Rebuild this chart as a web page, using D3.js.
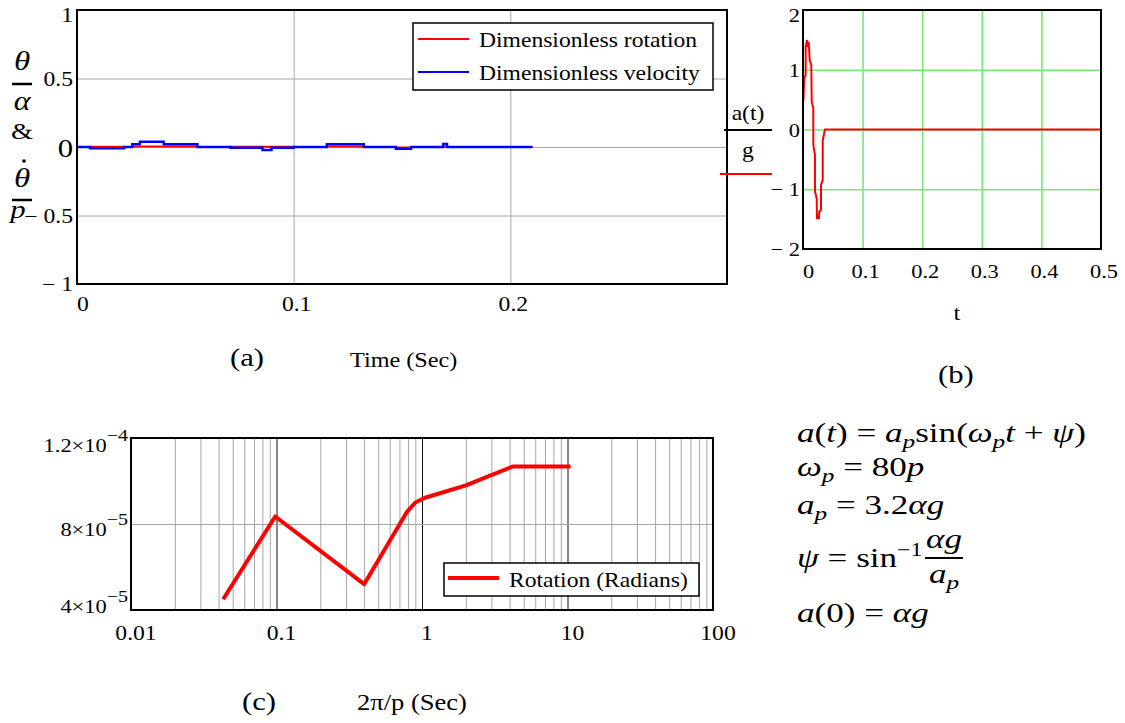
<!DOCTYPE html>
<html><head><meta charset="utf-8">
<script src="https://cdn.jsdelivr.net/npm/d3@7"></script>
<style>
body{margin:0;background:#fff}
svg{display:block}
text{font-family:"Liberation Serif","Times New Roman",serif;fill:#000}
</style>
</head><body>
<svg id="chart" width="1125" height="723"></svg>
<script>
// ---------------- DATA ----------------
// Panel (a): step series (time in s)
const timeA     = [0, 0.006, 0.0218, 0.0255, 0.029, 0.040, 0.0556, 0.0708, 0.0856, 0.0898, 0.100, 0.1153, 0.1324, 0.1472, 0.1542, 0.169, 0.1708, 0.2102];
const rotationA = [0, 0.002, 0, 0.003, 0.003, 0.003, 0, 0.001, 0.001, 0.001, 0, 0.004, 0, -0.004, 0, 0.002, 0, 0];
const velocityA = [0, -0.010, 0, 0.020, 0.038, 0.020, 0, -0.006, -0.022, -0.006, 0, 0.020, 0, -0.013, 0, 0.022, 0, 0];
const ticksAx = [0, 0.1, 0.2];
const labelsAx = ["0", "0.1", "0.2"];
const ticksAy = [1, 0.5, 0, -0.5, -1];
const labelsAy = ["1", "0.5", "0", "\u2212 0.5", "\u2212 1"];
const legendA = ["Dimensionless rotation", "Dimensionless velocity"];

// Panel (b): a(t)/g vs t
const timeB  = [0.0005, 0.0022, 0.0045, 0.0045, 0.0067, 0.0072, 0.0096, 0.0112, 0.0139, 0.0146, 0.0173, 0.0173, 0.0201, 0.0201, 0.0230, 0.0235, 0.0268, 0.0273, 0.0302, 0.0302, 0.0331, 0.0331, 0.0369, 0.5];
const accelB = [0.465, 0.857, 0.912, 1.386, 1.498, 1.386, 1.469, 1.163, 1.079, 0.465, 0.355, -0.259, -0.427, -1.041, -1.151, -1.486, -1.486, -1.376, -1.347, -0.929, -0.845, -0.176, 0, 0];
const ticksBx = [0, 0.1, 0.2, 0.3, 0.4, 0.5];
const labelsBx = ["0", "0.1", "0.2", "0.3", "0.4", "0.5"];
const ticksBy = [2, 1, 0, -1, -2];
const labelsBy = ["2", "1", "0", "\u2212 1", "\u2212 2"];

// Panel (c): rotation vs 2π/p (log x)
const periodC   = [0.043, 0.098, 0.40, 0.785, 0.90, 1.05, 2.0, 4.2, 10.5];
const rotationC = [4.5e-5, 8.35e-5, 5.2e-5, 8.55e-5, 9.0e-5, 9.22e-5, 9.8e-5, 1.067e-4, 1.067e-4];
const ticksCx = [0.01, 0.1, 1, 10, 100];
const labelsCx = ["0.01", "0.1", "1", "10", "100"];
const ticksCy = [1.2e-4, 8e-5, 4e-5];
const mantCy = ["1.2\u00d710", "8\u00d710", "4\u00d710"];
const expCy = ["\u22124", "\u22125", "\u22125"];
const legendC = ["Rotation (Radians)"];

// ---------------- DRAWING ----------------
const svg = d3.select("#chart");
const SX = 1.18;           // horizontal glyph stretch of the reference
const GRID = "#a6a6a6";

function txt(sel, x, y, s, size, anchor, style) {
  const t = sel.append("text")
    .attr("transform", `translate(${x},${y}) scale(${SX},1)`)
    .attr("font-size", size)
    .attr("text-anchor", anchor || "start")
    .text(s);
  if (style) t.attr("font-style", style);
  return t;
}

// ===== Panel (a) =====
const A = {l: 77, r: 727, t: 10, b: 284};
const xA = d3.scaleLinear().domain([0, 0.3]).range([A.l, A.r]);
const yA = d3.scaleLinear().domain([-1, 1]).range([A.b, A.t]);
const gA = svg.append("g");

gA.append("g").attr("transform", `translate(0,${A.b})`)
  .call(d3.axisBottom(xA).tickValues([0.1, 0.2]).tickSize(-(A.b - A.t)).tickFormat(""))
  .call(g => g.select(".domain").remove())
  .call(g => g.selectAll("line").attr("stroke", GRID).attr("stroke-width", 1));
gA.append("g").attr("transform", `translate(${A.l},0)`)
  .call(d3.axisLeft(yA).tickValues([0.5, 0, -0.5]).tickSize(-(A.r - A.l)).tickFormat(""))
  .call(g => g.select(".domain").remove())
  .call(g => g.selectAll("line").attr("stroke", GRID).attr("stroke-width", 1));

const stepLine = (xs, ys, xsc, ysc) => d3.line().curve(d3.curveStepAfter)
  .x((d, i) => xsc(xs[i])).y((d, i) => ysc(ys[i]))(ys);

gA.append("path").attr("d", stepLine(timeA, rotationA, xA, yA))
  .attr("fill", "none").attr("stroke", "#ff0000").attr("stroke-width", 2);
gA.append("path").attr("d", stepLine(timeA, velocityA, xA, yA))
  .attr("fill", "none").attr("stroke", "#0000ff").attr("stroke-width", 2.4);

gA.append("rect").attr("x", A.l).attr("y", A.t).attr("width", A.r - A.l).attr("height", A.b - A.t)
  .attr("fill", "none").attr("stroke", "#000").attr("stroke-width", 2);

// y tick labels
ticksAy.forEach((v, i) => {
  const y = yA(v);
  const big = v === 0;
  const base = Math.max(y + (big ? 10 : 7), A.t + 12);
  txt(gA, 73, Math.min(base, A.b + 9), labelsAy[i], big ? 26 : 20, "end");
});
// x tick labels
ticksAx.forEach((v, i) => {
  txt(gA, xA(v) + (i === 0 ? 0 : 3), 311, labelsAx[i], 20, i === 0 ? "start" : "middle");
});
// y axis label: θ/α & θ̇/p
txt(gA, 22, 70, "θ", 28, "middle", "italic");
gA.append("line").attr("x1", 12).attr("x2", 32).attr("y1", 84).attr("y2", 84).attr("stroke", "#000").attr("stroke-width", 2.5);
txt(gA, 22, 110, "α", 27, "middle", "italic");
txt(gA, 22, 139, "&", 24, "middle");
txt(gA, 22, 187, "θ", 28, "middle", "italic");
gA.append("circle").attr("cx", 24).attr("cy", 161).attr("r", 1.8).attr("fill", "#000");
gA.append("line").attr("x1", 12).attr("x2", 32).attr("y1", 200).attr("y2", 200).attr("stroke", "#000").attr("stroke-width", 2.5);
txt(gA, 18, 218, "p", 26, "middle", "italic");

// legend (a)
const LA = {x: 413, y: 23, w: 300, h: 67};
gA.append("rect").attr("x", LA.x).attr("y", LA.y).attr("width", LA.w).attr("height", LA.h)
  .attr("fill", "#fff").attr("stroke", "#000").attr("stroke-width", 1.5);
const legColA = ["#ff0000", "#0000ff"];
legendA.forEach((s, i) => {
  const ly = LA.y + 16 + i * 33;
  gA.append("line").attr("x1", LA.x + 5).attr("x2", LA.x + 56).attr("y1", ly).attr("y2", ly)
    .attr("stroke", legColA[i]).attr("stroke-width", 2);
  txt(gA, LA.x + 66, ly + 8, s, 20, "start");
});

txt(gA, 230, 366, "(a)", 26, "start");
txt(gA, 350, 367, "Time (Sec)", 20.5, "start");

// ===== Panel (b) =====
const B = {l: 803, r: 1101, t: 10, b: 249};
const xB = d3.scaleLinear().domain([0, 0.5]).range([B.l, B.r]);
const yB = d3.scaleLinear().domain([-2, 2]).range([B.b, B.t]);
const gB = svg.append("g");
const GREEN = "#74ec74";
gB.append("g").attr("transform", `translate(0,${B.b})`)
  .call(d3.axisBottom(xB).tickValues([0.1, 0.2, 0.3, 0.4]).tickSize(-(B.b - B.t)).tickFormat(""))
  .call(g => g.select(".domain").remove())
  .call(g => g.selectAll("line").attr("stroke", GREEN).attr("stroke-width", 1.6));
gB.append("g").attr("transform", `translate(${B.l},0)`)
  .call(d3.axisLeft(yB).tickValues([1, 0, -1]).tickSize(-(B.r - B.l)).tickFormat(""))
  .call(g => g.select(".domain").remove())
  .call(g => g.selectAll("line").attr("stroke", GREEN).attr("stroke-width", 1.6));

gB.append("path").attr("d", d3.line().x((d, i) => xB(timeB[i])).y((d, i) => yB(accelB[i]))(accelB))
  .attr("fill", "none").attr("stroke", "#ff0000").attr("stroke-width", 2);

gB.append("rect").attr("x", B.l).attr("y", B.t).attr("width", B.r - B.l).attr("height", B.b - B.t)
  .attr("fill", "none").attr("stroke", "#000").attr("stroke-width", 2);

ticksBy.forEach((v, i) => {
  const y = yB(v);
  const base = Math.min(Math.max(y + 7, B.t + 12), B.b + 10);
  txt(gB, 800, base, labelsBy[i], 19, "end");
});
ticksBx.forEach((v, i) => {
  txt(gB, xB(v) + (i === 0 ? 0 : 3), 278, labelsBx[i], 19, i === 0 ? "start" : "middle");
});
txt(gB, 957, 320, "t", 21, "middle");
txt(gB, 748, 120, "a(t)", 20, "middle");
gB.append("line").attr("x1", 724).attr("x2", 772).attr("y1", 130).attr("y2", 130).attr("stroke", "#000").attr("stroke-width", 2);
txt(gB, 748, 157, "g", 20, "middle");
gB.append("line").attr("x1", 720).attr("x2", 772).attr("y1", 174).attr("y2", 174).attr("stroke", "#ff0000").attr("stroke-width", 2);
txt(gB, 938, 383, "(b)", 26, "start");

// ===== Panel (c) =====
const C = {l: 131, r: 713, t: 438, b: 610};
const xC = d3.scaleLog().domain([0.01, 100]).range([C.l, C.r]);
const yC = d3.scaleLinear().domain([4e-5, 1.2e-4]).range([C.b, C.t]);
const gC = svg.append("g");
const allTicks = xC.ticks().filter(v => v > 0.01 * 1.0001 && v < 100 * 0.9999);
const isDecade = v => Math.abs(Math.log10(v) - Math.round(Math.log10(v))) < 1e-6;
gC.append("g").attr("transform", `translate(0,${C.b})`)
  .call(d3.axisBottom(xC).tickValues(allTicks).tickSize(-(C.b - C.t)).tickFormat(""))
  .call(g => g.select(".domain").remove())
  .call(g => g.selectAll(".tick line")
    .attr("stroke", d => isDecade(d) ? "#111" : GRID)
    .attr("stroke-width", 1));
gC.append("g").attr("transform", `translate(${C.l},0)`)
  .call(d3.axisLeft(yC).tickValues([8e-5]).tickSize(-(C.r - C.l)).tickFormat(""))
  .call(g => g.select(".domain").remove())
  .call(g => g.selectAll("line").attr("stroke", GRID).attr("stroke-width", 1));

gC.append("path").attr("d", d3.line().x((d, i) => xC(periodC[i])).y((d, i) => yC(rotationC[i]))(rotationC))
  .attr("fill", "none").attr("stroke", "#ff0000").attr("stroke-width", 4).attr("stroke-linejoin", "round");

gC.append("rect").attr("x", C.l).attr("y", C.t).attr("width", C.r - C.l).attr("height", C.b - C.t)
  .attr("fill", "none").attr("stroke", "#000").attr("stroke-width", 2);

ticksCy.forEach((v, i) => {
  const y = yC(v);
  const base = Math.min(Math.max(y + 12, C.t + 14), C.b + 3);
  const t = gC.append("text")
    .attr("transform", `translate(128,${base}) scale(${SX},1)`)
    .attr("font-size", 19).attr("text-anchor", "end");
  t.append("tspan").text(mantCy[i]);
  t.append("tspan").attr("font-size", 17).attr("dy", -11).text(expCy[i]);
});
ticksCx.forEach((v, i) => {
  txt(gC, xC(v) + 5, 640, labelsCx[i], 20, "middle");
});

// legend (c)
const LC = {x: 444, y: 563, w: 255, h: 33};
gC.append("rect").attr("x", LC.x).attr("y", LC.y).attr("width", LC.w).attr("height", LC.h)
  .attr("fill", "#fff").attr("stroke", "#000").attr("stroke-width", 1.5);
gC.append("line").attr("x1", LC.x + 4).attr("x2", LC.x + 55).attr("y1", LC.y + 15).attr("y2", LC.y + 15)
  .attr("stroke", "#ff0000").attr("stroke-width", 4);
txt(gC, LC.x + 65, LC.y + 24, legendC[0], 20, "start");

txt(gC, 242, 710, "(c)", 26, "start");
txt(gC, 357, 710, "2\u03c0/p (Sec)", 22.5, "start");

// ===== Equations =====
const EX = 1.3, ES = 27;
function eq(x, y, parts, anchor) {
  const t = svg.append("text").attr("transform", `translate(${x},${y}) scale(${EX},1)`)
    .attr("font-size", ES).attr("text-anchor", anchor || "start");
  let shift = 0;
  parts.forEach(([s, f]) => {
    const ts = t.append("tspan").text(s);
    if (f.includes("i")) ts.attr("font-style", "italic");
    let target = 0;
    if (f.includes("s")) { ts.attr("font-size", ES * 0.72); target = ES * 0.22; }
    if (f.includes("u")) { ts.attr("font-size", ES * 0.68); target = -ES * 0.42; }
    if (target !== shift) { ts.attr("dy", target - shift); shift = target; }
  });
  return t;
}
eq(797, 442, [["a","i"],["(",""],["t","i"],[") = ",""],["a","i"],["p","is"],["sin(",""],["ω","i"],["p","is"],["t","i"],[" + ",""],["ψ","i"],[")",""]]);
eq(797, 476, [["ω","i"],["p","is"],[" = 80",""],["p","i"]]);
eq(797, 514, [["a","i"],["p","is"],[" = 3.2",""],["αg","i"]]);
eq(797, 567, [["ψ","i"],[" = sin",""],["−1","u"]]);
eq(944, 548, [["αg","i"]], "middle");
svg.append("line").attr("x1", 925).attr("x2", 963).attr("y1", 558).attr("y2", 558).attr("stroke", "#000").attr("stroke-width", 1.8);
eq(944, 583, [["a","i"],["p","is"]], "middle");
eq(797, 622, [["a","i"],["(0) = ",""],["αg","i"]]);
</script>
</body></html>
